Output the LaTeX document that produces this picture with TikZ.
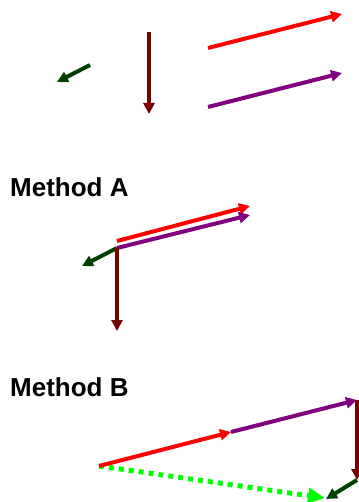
\documentclass[tikz,border=0pt]{standalone}
\usepackage{fontspec}
\setmainfont{Liberation Sans}
\usetikzlibrary{arrows.meta}
\definecolor{vred}{RGB}{255,0,0}
\definecolor{vpurple}{RGB}{128,0,128}
\definecolor{vmaroon}{RGB}{120,0,0}
\definecolor{vgreen}{RGB}{0,64,0}
\definecolor{vlime}{RGB}{0,255,0}
\begin{document}
\begin{tikzpicture}[x=1pt,y=-1pt,
  vec/.style={line width=4pt,-{Triangle[length=11pt,width=11pt]}},
  lbl/.style={font=\bfseries\fontsize{26}{30}\selectfont,anchor=base west,inner sep=0pt}]
\useasboundingbox (0,0) rectangle (358,502);
% top: separate vectors
\coordinate (g1) at (90,65);   \coordinate (g2) at (57,82);
\coordinate (m1) at (149,32);  \coordinate (m2) at (149,114);
\coordinate (r1) at (208,48);  \coordinate (r2) at (342,14);
\coordinate (p1) at (208,107); \coordinate (p2) at (342,73);
\draw[vec,vgreen] (g1) -- (g2);
\draw[vec,vmaroon] (m1) -- (m2);
\draw[vec,vred] (r1) -- (r2);
\draw[vec,vpurple] (p1) -- (p2);
% Method A
\node[lbl] (ta) at (10,197) {Method A};
\coordinate (a0) at (117,248);
\coordinate (ar1) at (117,241); \coordinate (ar2) at (250,206);
\coordinate (ap2) at (250,215);
\coordinate (ag2) at (82,266);
\coordinate (am2) at (117,331);
\draw[vec,vred] (ar1) -- (ar2);
\draw[vec,vpurple] (a0) -- (ap2);
\draw[vec,vgreen] (a0) -- (ag2);
\draw[vec,vmaroon] (a0) -- (am2);
% Method B
\node[lbl] (tb) at (10,396) {Method B};
\coordinate (b0) at (99,466);
\coordinate (b1) at (231,432);
\coordinate (b2) at (357,400);
\coordinate (b3) at (357,480);
\coordinate (b4) at (326,499);
\coordinate (b5) at (325,498);
\draw[line width=5pt,vlime,dash pattern=on 5pt off 5pt,-{Triangle[length=17pt,width=15pt]}] (b0) -- (b5);
\draw[vec,vred] (b0) -- (b1);
\draw[vec,vpurple] (b1) -- (b2);
\draw[vec,vmaroon] (b2) -- (b3);
\draw[vec,vgreen] (b3) -- (b4);
\end{tikzpicture}
\end{document}
